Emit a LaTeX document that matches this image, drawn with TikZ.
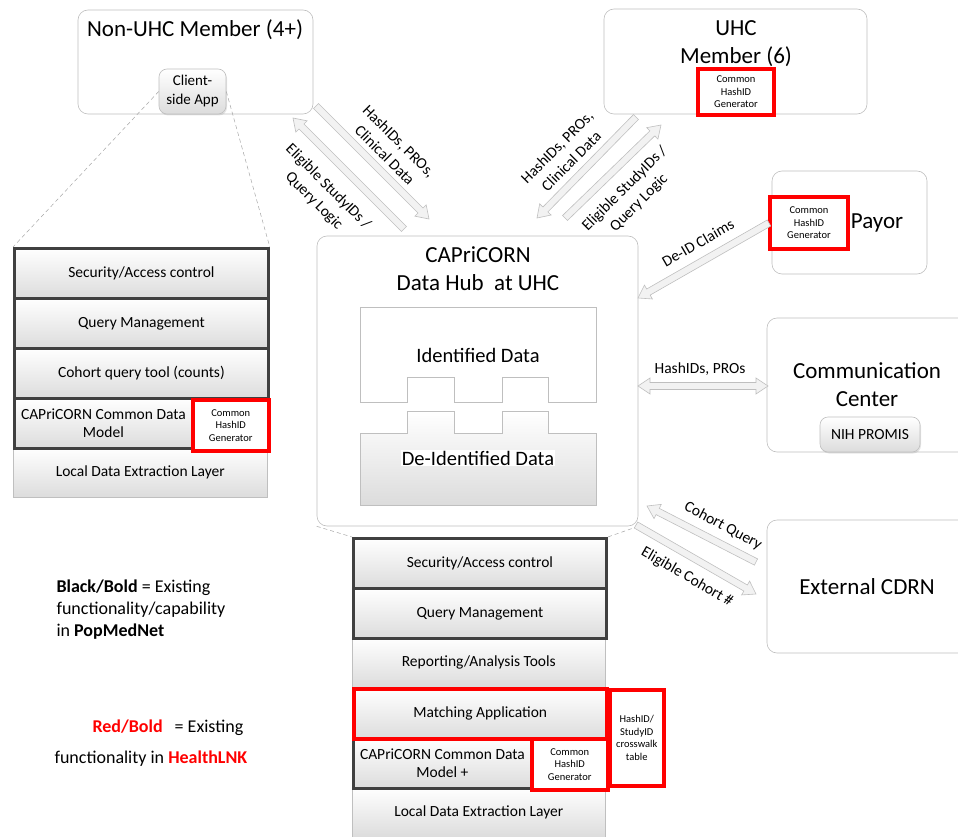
\documentclass[tikz,border=0pt]{standalone}
\usepackage{fontspec}
\setmainfont{Carlito}
\usetikzlibrary{calc,shadows}
\definecolor{HubLine}{HTML}{BFBFBF}
\definecolor{HubBold}{HTML}{404040}
\definecolor{HubRed}{HTML}{FF0000}
\definecolor{HubShade}{HTML}{DCDCDC}
\definecolor{HubArrow}{HTML}{F2F2F2}
\definecolor{HubDash}{HTML}{A6A6A6}

\tikzset{
  site/.style={draw=HubLine, line width=0.6pt, rounded corners=10pt, fill=white, inner sep=0pt},
  title/.style={align=center, font=\fontsize{23}{28}\selectfont},
  pill/.style={draw=HubLine, line width=0.6pt, rounded corners=8pt, top color=white, bottom color=HubShade, inner sep=0pt, align=center, font=\fontsize{15}{19}\selectfont,
    drop shadow={shadow xshift=1pt, shadow yshift=-1.5pt, opacity=0.2}},
  layer/.style={draw=HubLine, line width=0.6pt, top color=white, bottom color=HubShade, anchor=north west, inner sep=0pt, minimum height=50pt, align=center, font=\fontsize{15.5}{18.5}\selectfont},
  boldlayer/.style={layer, draw=HubBold, line width=2.8pt},
  redlayer/.style={layer, draw=HubRed, line width=3.5pt},
  genbox/.style={draw=HubRed, line width=3.5pt, fill=white, inner sep=0pt, align=center, font=\fontsize{10.5}{12.5}\selectfont},
  flowlabel/.style={align=center, font=\fontsize{15.5}{20}\selectfont},
  legend/.style={anchor=west, align=left, font=\fontsize{18}{22}\selectfont},
  zoomline/.style={draw=HubDash, line width=0.5pt, dash pattern=on 4pt off 3pt},
  fatarrow/.style={draw=HubLine, fill=HubArrow, line width=0.6pt,
    to path={let \p1=(\tikztostart), \p2=(\tikztotarget),
      \n1={atan2(\y2-\y1,\x2-\x1)}, \n2={veclen(\x2-\x1,\y2-\y1)-12pt} in
      ($(\p1)+({\n1+90}:3.5pt)$) -- ($(\p1)+({\n1}:{\n2})+({\n1+90}:3.5pt)$)
      -- ($(\p1)+({\n1}:{\n2})+({\n1+90}:8pt)$) -- (\p2)
      -- ($(\p1)+({\n1}:{\n2})+({\n1-90}:8pt)$) -- ($(\p1)+({\n1}:{\n2})+({\n1-90}:3.5pt)$)
      -- ($(\p1)+({\n1-90}:3.5pt)$) -- cycle}},
  fatboth/.style={draw=HubLine, fill=HubArrow, line width=0.6pt,
    to path={let \p1=(\tikztostart), \p2=(\tikztotarget),
      \n1={atan2(\y2-\y1,\x2-\x1)}, \n2={veclen(\x2-\x1,\y2-\y1)-12pt} in
      (\p1) -- ($(\p1)+({\n1}:12pt)+({\n1+90}:8pt)$) -- ($(\p1)+({\n1}:12pt)+({\n1+90}:3.5pt)$)
      -- ($(\p1)+({\n1}:{\n2})+({\n1+90}:3.5pt)$) -- ($(\p1)+({\n1}:{\n2})+({\n1+90}:8pt)$) -- (\p2)
      -- ($(\p1)+({\n1}:{\n2})+({\n1-90}:8pt)$) -- ($(\p1)+({\n1}:{\n2})+({\n1-90}:3.5pt)$)
      -- ($(\p1)+({\n1}:12pt)+({\n1-90}:3.5pt)$) -- ($(\p1)+({\n1}:12pt)+({\n1-90}:8pt)$) -- cycle}}
}

\begin{document}
\begin{tikzpicture}[x=1pt,y=-1pt]
\clip (0,0) rectangle (958,837);

\node[site, minimum width=235pt, minimum height=104pt] (nonuhc) at (195.5,62) {};
\node[title] (nonuhctitle) at (195,30) {Non-UHC Member (4+)};
\node[pill, minimum width=67pt, minimum height=45pt] (client) at (192.5,91.5) {Client-\\side App};

\node[site, minimum width=263pt, minimum height=105pt] (uhc) at (735.5,61.5) {};
\node[title] (uhctitle) at (736,44) {UHC\\Member (6)};
\node[genbox, minimum width=76pt, minimum height=46pt] (gen0) at (736,92) {Common\\HashID\\Generator};

\node[site, minimum width=155pt, minimum height=103pt] (payor) at (849.5,222.5) {};
\node[genbox, minimum width=78pt, minimum height=52pt] (gen3) at (809,223) {Common\\HashID\\Generator};
\node[title] (payortitle) at (877,223) {Payor};

\node[site, minimum width=321pt, minimum height=290pt] (hub) at (477.5,381) {};
\node[title] (hubtitle) at (478,269) {CAPriCORN\\Data Hub\ \ at UHC};
\draw[draw=HubLine, fill=white, line width=0.6pt] (360,307) -- (596,307) -- (596,402) -- (548,402) -- (548,377) -- (502,377) -- (502,402) -- (454,402) -- (454,377) -- (407,377) -- (407,402) -- (360,402) -- cycle;
\draw[draw=HubLine, top color=white, bottom color=HubShade, line width=0.6pt] (360,433) -- (407,433) -- (407,411) -- (454,411) -- (454,433) -- (502,433) -- (502,411) -- (548,411) -- (548,433) -- (596,433) -- (596,505) -- (360,505) -- cycle;
\node[font=\fontsize{20.5}{24}\selectfont] (ident) at (478,355) {Identified Data};
\node[font=\fontsize{20.5}{24}\selectfont, fill=white, inner sep=1pt] (deident) at (478,458) {De-Identified Data};

\node[site, minimum width=218pt, minimum height=134pt] (comm) at (876,385) {};
\node[title] (commtitle) at (867,385) {Communication\\Center};
\node[pill, minimum width=100pt, minimum height=35pt, font=\fontsize{15.5}{18}\selectfont] (promis) at (870,434.5) {NIH PROMIS};

\node[site, minimum width=218pt, minimum height=133pt] (cdrn) at (876,586.5) {};
\node[title] (cdrntitle) at (867,587) {External CDRN};

\node[layer, minimum width=254pt] (local1) at (13,447) {Local Data Extraction Layer};
\node[boldlayer, minimum width=254pt] (sec1) at (13,247) {Security/Access control};
\node[boldlayer, minimum width=254pt] (qm1) at (13,297) {Query Management};
\node[boldlayer, minimum width=254pt] (cohort1) at (13,347) {Cohort query tool (counts)};
\node[boldlayer, minimum width=178pt] (cdm1) at (13,397) {CAPriCORN Common Data\\Model};
\node[genbox, anchor=north west, minimum width=76pt, minimum height=51pt] (gen1) at (191,398) {Common\\HashID\\Generator};

\node[layer, minimum width=253pt] (local2) at (352,787) {Local Data Extraction Layer};
\node[layer, minimum width=253pt] (report2) at (352,637) {Reporting/Analysis Tools};
\node[boldlayer, minimum width=253pt] (sec2) at (352,537) {Security/Access control};
\node[boldlayer, minimum width=253pt] (qm2) at (352,587) {Query Management};
\node[boldlayer, minimum width=178pt] (cdm2) at (352,737) {CAPriCORN Common Data\\Model +};
\node[redlayer, minimum width=253pt] (match2) at (352,687) {Matching Application};
\node[genbox, anchor=north west, minimum width=76pt, minimum height=51pt] (gen2) at (530,737) {Common\\HashID\\Generator};
\node[genbox, anchor=north west, minimum width=54pt, minimum height=96pt] (walk2) at (608,688) {HashID/\\StudyID\\crosswalk\\table};

\draw[zoomline] (client.west) -- (sec1.north west);
\draw[zoomline] (client.east) -- (sec1.north east);
\draw[zoomline] (hub.south west) -- (sec2.north west);
\draw[zoomline] (hub.south east) -- (sec2.north east);

\coordinate (na1) at (316,106);
\coordinate (na2) at (429,219);
\coordinate (nb1) at (404,229);
\coordinate (nb2) at (293,118);
\coordinate (ua1) at (636,117);
\coordinate (ua2) at (537,218);
\coordinate (ub1) at (565,218);
\coordinate (ub2) at (661,125);
\coordinate (pa1) at (769,223);
\coordinate (pa2) at (638,298);
\coordinate (ca1) at (638,386);
\coordinate (ca2) at (768,386);
\coordinate (xa1) at (756,562);
\coordinate (xa2) at (647,506);
\coordinate (xb1) at (636,525);
\coordinate (xb2) at (756,594);

\draw[fatarrow] (na1) to (na2);
\draw[fatarrow] (nb1) to (nb2);
\draw[fatarrow] (ua1) to (ua2);
\draw[fatarrow] (ub1) to (ub2);
\draw[fatarrow] (pa1) to (pa2);
\draw[fatboth] (ca1) to (ca2);
\draw[fatarrow] (xa1) to (xa2);
\draw[fatarrow] (xb1) to (xb2);

\node[flowlabel, rotate=-45] (nalabel) at (392,148) {HashIDs, PROs,\\Clinical Data};
\node[flowlabel, rotate=-45] (nblabel) at (321,194) {Eligible StudyIDs /\\Query Logic};
\node[flowlabel, rotate=45] (ualabel) at (564,154) {HashIDs, PROs,\\Clinical Data};
\node[flowlabel, rotate=45] (ublabel) at (632,196) {Eligible StudyIDs /\\Query Logic};
\node[flowlabel, rotate=30] (palabel) at (698,243) {De-ID Claims};
\node[flowlabel] (calabel) at (700,369) {HashIDs, PROs};
\node[flowlabel, rotate=-28] (xalabel) at (723,526) {Cohort Query};
\node[flowlabel, rotate=-30] (xblabel) at (687,577) {Eligible Cohort \#};

\node[legend] (legblack) at (53,610) {\textbf{Black/Bold} = Existing\\functionality/capability\\in \textbf{PopMedNet}};
\node[legend] (legred) at (89,728) {\textcolor{HubRed}{\textbf{Red/Bold}}\hspace{12pt}= Existing};
\node[legend] (leghealth) at (51,759) {functionality in \textcolor{HubRed}{\textbf{HealthLNK}}};
\end{tikzpicture}
\end{document}
